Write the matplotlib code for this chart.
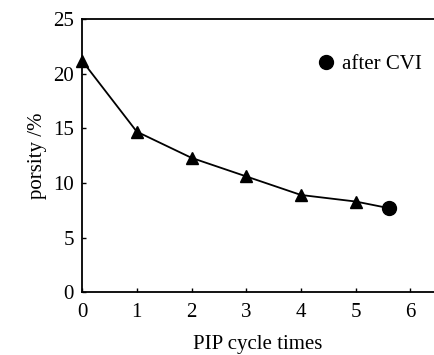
import matplotlib.pyplot as plt

plt.rcParams['font.family'] = ['Liberation Serif', 'DejaVu Serif']

# PIP cycles and measured porosity
cycles = [0, 1, 2, 3, 4, 5]
porosity = [21.2, 14.7, 12.3, 10.6, 8.9, 8.3]
# final point after CVI
cvi_x = [5.6]
cvi_y = [7.7]

fig = plt.figure(figsize=(4.34, 3.55), dpi=100)
ax = fig.add_axes([0.189, 0.177, 0.811, 0.769])

ax.plot(cycles + cvi_x, porosity + cvi_y, color='black', lw=1.3, zorder=2)
ax.plot(cycles, porosity, linestyle='none', marker='^', color='black',
        markersize=8.5, zorder=3, clip_on=False)
ax.plot(cvi_x, cvi_y, linestyle='none', marker='o', color='black',
        markersize=10, zorder=3, label='after CVI')

ax.set_xlim(0, 6.43)
ax.set_ylim(0, 25)
ax.set_xticks(range(0, 7))
ax.set_yticks(range(0, 26, 5))
ax.tick_params(direction='in', length=3, width=1, labelsize=15)
ax.tick_params(axis='x', pad=8)
ax.tick_params(axis='y', pad=6)
ax.spines['right'].set_visible(False)
for s in ['left', 'top', 'bottom']:
    ax.spines[s].set_linewidth(1.3)

ax.set_xlabel('PIP cycle times', fontsize=15, labelpad=9)
ax.set_ylabel('porsity /%', fontsize=15, labelpad=4)

ax.legend(loc='upper right', bbox_to_anchor=(0.99, 0.9), frameon=False,
          fontsize=15, handletextpad=0.2, handlelength=1.2, borderaxespad=0)

fig.savefig('out.png', dpi=100)
